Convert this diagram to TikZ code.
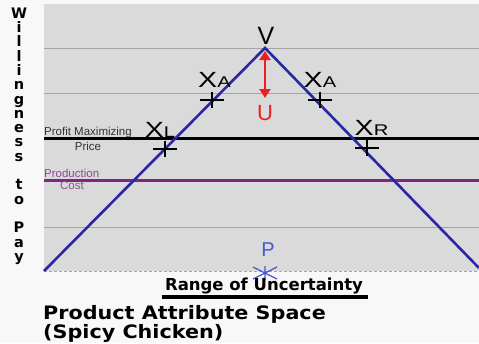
\documentclass[tikz,border=0pt]{standalone}
\usepackage{fontspec}
\setmainfont{Liberation Sans}
\newfontfamily\heavysans{DejaVu Sans}
\newfontfamily\widesans{DejaVu Sans}[FakeStretch=1.12]
\newfontfamily\xfont{Liberation Sans}[FakeStretch=1.3]
\usetikzlibrary{arrows.meta, positioning, calc}

\definecolor{pagewhite}{RGB}{248,248,248}
\definecolor{plotgray}{RGB}{218,218,218}
\definecolor{gridgray}{RGB}{165,165,165}
\definecolor{demandblue}{RGB}{40,40,165}
\definecolor{costpurple}{RGB}{125,40,128}
\definecolor{costtext}{RGB}{140,70,150}
\definecolor{arrowred}{RGB}{235,30,35}
\definecolor{pointblue}{RGB}{70,90,210}
\definecolor{labelgray}{RGB}{50,50,50}

\newcommand{\xmark}[1]{\xfont X\fontsize{15.5}{15.5}\selectfont #1}

\begin{document}
\begin{tikzpicture}[x=1pt, y=-1pt]
        \tikzstyle{gridline} = [gridgray, line width=0.8pt]
        \tikzstyle{axisletters} = [inner sep=0pt, align=center, font=\heavysans\bfseries\fontsize{14.5}{14.3}\selectfont]
        \tikzstyle{marklabel} = [inner sep=0pt, font=\fontsize{22}{22}\selectfont]
        \tikzstyle{linelabel} = [inner sep=0pt, font=\fontsize{11.5}{12}\selectfont]
        \tikzstyle{boldlabel} = [inner sep=0pt, font=\heavysans\bfseries\fontsize{16.5}{17}\selectfont]
        \tikzstyle{titlelabel} = [inner sep=0pt, align=left, font=\widesans\bfseries\fontsize{18.5}{16.5}\selectfont]
        \tikzstyle{tick} = [black, line width=2.6pt]
        \tikzstyle{arrow} = [arrowred, line width=2.5pt, {Triangle[width=11pt,length=9pt]}-{Triangle[width=11pt,length=9pt]}]

        % frame
        \fill[pagewhite] (0,0) rectangle (479,343);
        \useasboundingbox (0,0) rectangle (479,343);
        \fill[plotgray] (44,4) rectangle (479,271);
        \foreach \gy in {48.5, 93, 227}
            \draw[gridline] (44,\gy) -- (479,\gy);
        \draw[gridline, densely dashed] (44,271) -- (479,271);

        % willingness to pay
        \node (wtp) [axisletters, anchor=north] at (19,7.5)
            {W\\i\\l\\l\\i\\n\\g\\n\\e\\s\\s\\~\\t\\o\\~\\P\\a\\y};

        % price and cost levels
        \coordinate (price left) at (44,138.5);
        \coordinate (price right) at (479,138.5);
        \coordinate (cost left) at (44,180);
        \coordinate (cost right) at (479,180);
        \draw[black, line width=3pt] (price left) -- (price right);
        \draw[costpurple, line width=3pt] (cost left) -- (cost right);
        \node (pmp) [linelabel, labelgray, anchor=base west] at (44,135.5) {Profit Maximizing};
        \node (price) [linelabel, labelgray] at (88,146) {Price};
        \node (prod) [linelabel, costtext, anchor=base west] at (44,177) {Production};
        \node (cost) [linelabel, costtext!80!gray] at (72,186) {Cost};

        % valuation
        \coordinate (left end) at (44,271);
        \coordinate (apex) at (265,48);
        \coordinate (right end) at (479,268);
        \draw[demandblue, line width=2.6pt] (left end) -- (apex) -- (right end);

        \foreach \nm/\cx/\cy in {xl/165/149, xal/212/100, xar/320/100, xr/367/148}
        {
            \coordinate (\nm) at (\cx,\cy);
            \draw[tick] ([xshift=-12pt]\nm) -- ([xshift=12pt]\nm) ([yshift=-8pt]\nm) -- ([yshift=8pt]\nm);
        }
        \node (lbl xl) [marklabel] at (160,129.5) {\xmark{L}};
        \node (lbl xal) [marklabel] at (214.5,79.5) {\xmark{A}};
        \node (lbl xar) [marklabel] at (320,79.5) {\xmark{A}};
        \node (lbl xr) [marklabel] at (371.5,127.5) {\xmark{R}};

        \node (v) [marklabel, font=\fontsize{25}{25}\selectfont] at (266,36) {V};
        \coordinate (u top) at (265,51);
        \coordinate (u bottom) at (265,98);
        \draw[arrow] (u top) -- (u bottom);
        \node (u) [marklabel, arrowred] at (265,113) {U};

        % ideal point
        \node (p) [marklabel, pointblue, font=\fontsize{20}{20}\selectfont] at (268,250) {P};
        \coordinate (pmark) at (265,273);
        \draw[pointblue, line width=1.2pt] ([yshift=7pt]pmark) -- ([yshift=-7pt]pmark)
            ([shift={(-12pt,6pt)}]pmark) -- ([shift={(12pt,-6pt)}]pmark)
            ([shift={(-12pt,-6pt)}]pmark) -- ([shift={(12pt,6pt)}]pmark);

        % axis texts
        \node (range) [boldlabel] at (264,286) {Range of Uncertainty};
        \coordinate (range bar left) at (162,297);
        \coordinate (range bar right) at (368,297);
        \draw[black, line width=3.5pt] (range bar left) -- (range bar right);
        \node (title) [titlelabel, anchor=base west] at (43,338.5) {Product Attribute Space\\(Spicy Chicken)};
\end{tikzpicture}
\end{document}
